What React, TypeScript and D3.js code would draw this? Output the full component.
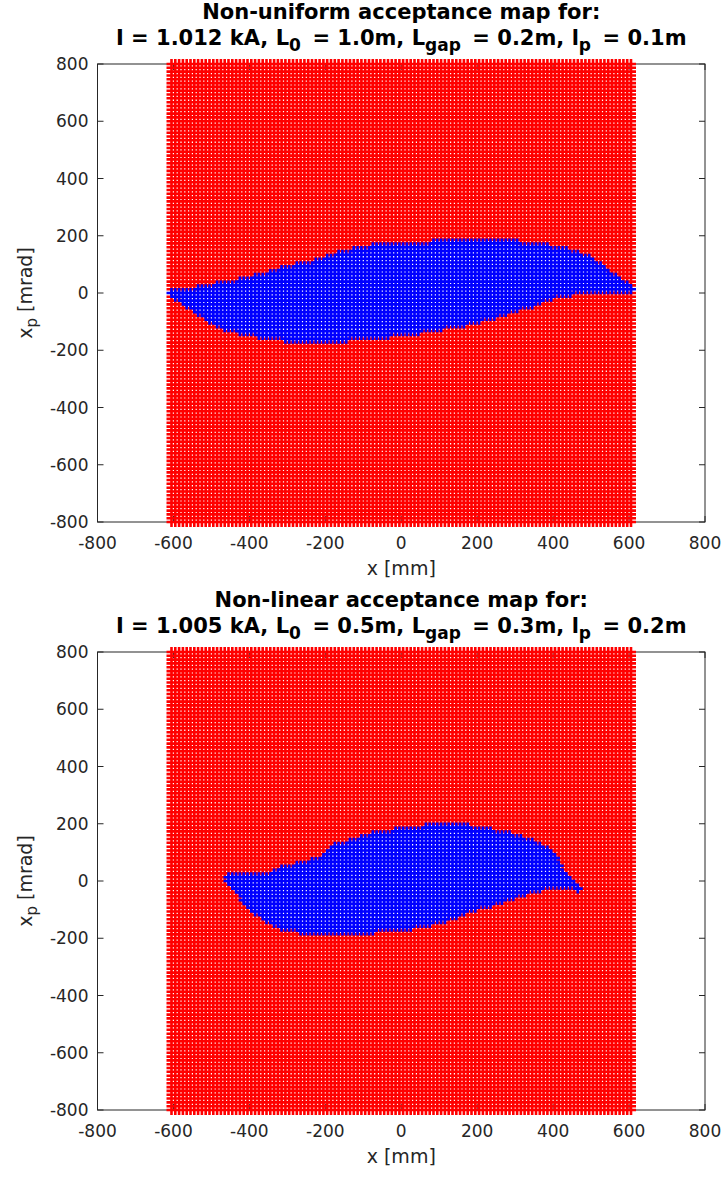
import React from 'react';
import * as d3 from 'd3';

const W = 727;
const H = 1178;

// axis ticks (both axes)
const TICKS = [-800, -600, -400, -200, 0, 200, 400, 600, 800];

// sampling grid of the acceptance map
const GRID_X_MIN = -605;
const GRID_X_MAX = 605;
const GRID_X_STEP = 10;
const GRID_Y_MIN = -800;
const GRID_Y_MAX = 800;
const GRID_Y_COUNT = 121;

// Map 1: boundary of the accepted (blue) region
const map1X = [-605, -550, -500, -450, -400, -350, -300, -250, -200, -150, -100, -50, 0, 50, 100, 150, 200, 250, 300, 350, 400, 450, 500, 550, 605];
const map1Upper = [2, 10, 24, 35, 49, 66, 87, 101, 119, 140, 157, 164, 168, 171, 175, 178, 178, 178, 175, 168, 157, 143, 119, 70, 20];
const map1Lower = [-8, -56, -101, -129, -143, -154, -161, -164, -164, -161, -157, -150, -143, -133, -122, -112, -98, -80, -59, -38, -14, 0, 3, 7, 5];

// Map 2: boundary of the accepted (blue) region
const map2X = [-455, -440, -400, -350, -300, -250, -200, -175, -150, -100, -50, 0, 50, 100, 150, 200, 250, 300, 350, 400, 425, 450, 465];
const map2Upper = [14, 17, 17, 21, 49, 63, 87, 122, 129, 150, 171, 175, 185, 196, 196, 182, 171, 157, 136, 101, 38, -3, -25];
const map2Lower = [0, -28, -94, -143, -168, -178, -185, -185, -185, -182, -168, -168, -154, -140, -119, -94, -77, -52, -31, -17, -17, -21, -35];

const title1Line1 = 'Non-uniform acceptance map for:';
const title1Line2 = ['I = 1.012 kA, L', '0', ' = 1.0m, L', 'gap', ' = 0.2m, l', 'p', ' = 0.1m'];
const title2Line1 = 'Non-linear acceptance map for:';
const title2Line2 = ['I = 1.005 kA, L', '0', ' = 0.5m, L', 'gap', ' = 0.3m, l', 'p', ' = 0.2m'];

const AX_LEFT = 97.5;
const AX_RIGHT = 705;
const AX_H = 458;
const TXT = '#262626';
const FONT = 'DejaVu Sans, sans-serif';

function Title2({ parts, x, y }: { parts: string[]; x: number; y: number }) {
  const SUB = 6;
  return (
    <text x={x} y={y} textAnchor="middle" fontFamily={FONT} fontWeight="bold" fontSize={21} fill="#000">
      {parts.map((p, i) =>
        i % 2 === 1 ? (
          <tspan key={i} dy={SUB} fontSize={17}>{p}</tspan>
        ) : (
          <tspan key={i} dy={i === 0 ? 0 : -SUB}>{(i > 0 ? '\u2009' : '') + p}</tspan>
        )
      )}
    </text>
  );
}

function Panel({ top, line1, line2, bx, bu, bl }: { top: number; line1: string; line2: string[]; bx: number[]; bu: number[]; bl: number[] }) {
  const bottom = top + AX_H;
  const x = d3.scaleLinear().domain([-800, 800]).range([AX_LEFT, AX_RIGHT]);
  const y = d3.scaleLinear().domain([-800, 800]).range([bottom, top]);
  const up = d3.scaleLinear().domain(bx).range(bu);
  const lo = d3.scaleLinear().domain(bx).range(bl);

  const gx = d3.range(GRID_X_MIN, GRID_X_MAX + 0.001, GRID_X_STEP);
  const gy = d3.range(GRID_Y_COUNT).map((i) => GRID_Y_MIN + (i * (GRID_Y_MAX - GRID_Y_MIN)) / (GRID_Y_COUNT - 1));
  const arm = 5;
  let red = '';
  let blue = '';
  for (const vx of gx) {
    const inX = vx >= bx[0] - 0.01 && vx <= bx[bx.length - 1] + 0.01;
    const u = inX ? up(vx) : 0;
    const l = inX ? lo(vx) : 0;
    const px = x(vx);
    for (const vy of gy) {
      const py = y(vy);
      const seg = `M${(px - arm).toFixed(1)},${py.toFixed(1)}h${arm * 2}M${px.toFixed(1)},${(py - arm).toFixed(1)}v${arm * 2}`;
      if (inX && vy <= u + 0.01 && vy >= l - 0.01) blue += seg;
      else red += seg;
    }
  }
  const tl = 6;
  const cx = (AX_LEFT + AX_RIGHT) / 2;
  return (
    <g>
      <text x={cx} y={top - 45} textAnchor="middle" fontFamily={FONT} fontWeight="bold" fontSize={21} fill="#000">
        {line1}
      </text>
      <Title2 parts={line2} x={cx} y={top - 19} />
      {/* axes box */}
      <rect x={AX_LEFT} y={top} width={AX_RIGHT - AX_LEFT} height={AX_H} fill="none" stroke={TXT} strokeWidth={1} />
      {TICKS.map((t) => (
        <g key={t}>
          <line x1={x(t)} x2={x(t)} y1={bottom} y2={bottom - tl} stroke={TXT} />
          <line x1={x(t)} x2={x(t)} y1={top} y2={top + tl} stroke={TXT} />
          <line x1={AX_LEFT} x2={AX_LEFT + tl} y1={y(t)} y2={y(t)} stroke={TXT} />
          <line x1={AX_RIGHT} x2={AX_RIGHT - tl} y1={y(t)} y2={y(t)} stroke={TXT} />
          <text x={x(t)} y={bottom + 27} textAnchor="middle" fontFamily={FONT} fontSize={17} fill={TXT}>{t}</text>
          <text x={AX_LEFT - 9} y={y(t) + 6} textAnchor="end" fontFamily={FONT} fontSize={17} fill={TXT}>{t}</text>
        </g>
      ))}
      <path d={red} stroke="#ff0000" strokeWidth={2.6} fill="none" />
      <path d={blue} stroke="#0000ff" strokeWidth={2.6} fill="none" />
      <text x={cx} y={bottom + 53} textAnchor="middle" fontFamily={FONT} fontSize={19} fill={TXT}>x [mm]</text>
      <text transform={`translate(32,${(top + bottom) / 2}) rotate(-90)`} textAnchor="middle" fontFamily={FONT} fontSize={19} fill={TXT}>
        <tspan>x</tspan>
        <tspan dy={5} fontSize={15}>p</tspan>
        <tspan dy={-5}> [mrad]</tspan>
      </text>
    </g>
  );
}

export default function App() {
  return (
    <svg width={W} height={H} style={{ position: 'absolute', left: 0, top: 0, display: 'block', background: '#fff' }}>
      <rect width={W} height={H} fill="#fff" />
      <Panel top={64} line1={title1Line1} line2={title1Line2} bx={map1X} bu={map1Upper} bl={map1Lower} />
      <Panel top={652} line1={title2Line1} line2={title2Line2} bx={map2X} bu={map2Upper} bl={map2Lower} />
    </svg>
  );
}
